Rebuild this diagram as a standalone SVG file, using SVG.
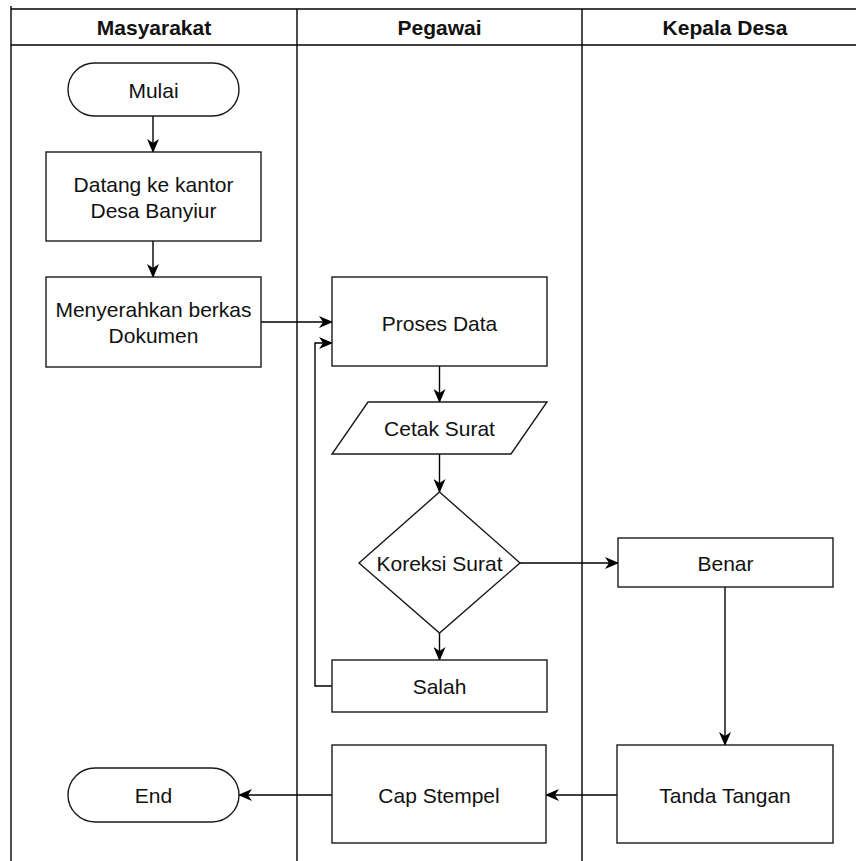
<svg xmlns="http://www.w3.org/2000/svg" width="856" height="861" viewBox="0 0 856 861">
<style>
.lane{fill:none;stroke:#000;stroke-width:1.4}
.shape{fill:#fff;stroke:#1a1a1a;stroke-width:1.4}
.t{font-family:"Liberation Sans",Arial,sans-serif;font-size:21px;fill:#111;text-anchor:middle}
.h{font-family:"Liberation Sans",Arial,sans-serif;font-size:21px;font-weight:bold;fill:#111;text-anchor:middle}
.c{fill:none;stroke:#000;stroke-width:1.4}
</style>
<defs>
<marker id="arr" markerUnits="userSpaceOnUse" markerWidth="14" markerHeight="12" refX="13" refY="6" orient="auto" viewBox="0 0 14 12">
<path d="M0,0 L14,6 L0,12 L4,6 Z" fill="#000"/>
</marker>
</defs>
<rect width="856" height="861" fill="#fff"/>
<g id="pool">
<line class="lane" x1="11" y1="6" x2="11" y2="861"/>
<line class="lane" x1="11" y1="9" x2="856" y2="9"/>
<line class="lane" x1="11" y1="45" x2="856" y2="45"/>
<line class="lane" x1="297" y1="9" x2="297" y2="861"/>
<line class="lane" x1="582" y1="9" x2="582" y2="861"/>
<text class="h" x="154" y="35">Masyarakat</text>
<text class="h" x="439.5" y="35">Pegawai</text>
<text class="h" x="725" y="35">Kepala Desa</text>
</g>
<g id="connectors">
<line class="c" x1="153" y1="116" x2="153" y2="152" marker-end="url(#arr)"/>
<line class="c" x1="153" y1="241" x2="153" y2="277" marker-end="url(#arr)"/>
<line class="c" x1="261" y1="322" x2="332" y2="322" marker-end="url(#arr)"/>
<polyline class="c" points="332,686 315,686 315,343 332,343" marker-end="url(#arr)"/>
<line class="c" x1="439.5" y1="366" x2="439.5" y2="402" marker-end="url(#arr)"/>
<line class="c" x1="439.5" y1="454" x2="439.5" y2="492" marker-end="url(#arr)"/>
<line class="c" x1="439.5" y1="633" x2="439.5" y2="660" marker-end="url(#arr)"/>
<line class="c" x1="520" y1="563" x2="618" y2="563" marker-end="url(#arr)"/>
<line class="c" x1="725" y1="587" x2="725" y2="745" marker-end="url(#arr)"/>
<line class="c" x1="617" y1="795" x2="546" y2="795" marker-end="url(#arr)"/>
<line class="c" x1="332" y1="795" x2="239" y2="795" marker-end="url(#arr)"/>
</g>
<g id="mulai">
<rect class="shape" x="68" y="63" width="171" height="53" rx="26.5" ry="26.5"/>
<text class="t" x="153.5" y="98">Mulai</text>
</g>
<g id="datang">
<rect class="shape" x="46" y="152" width="215" height="89"/>
<text class="t" x="153.5" y="192">Datang ke kantor</text>
<text class="t" x="153.5" y="218">Desa Banyiur</text>
</g>
<g id="menyerahkan">
<rect class="shape" x="46" y="277" width="215" height="90"/>
<text class="t" x="153.5" y="317">Menyerahkan berkas</text>
<text class="t" x="153.5" y="343">Dokumen</text>
</g>
<g id="proses">
<rect class="shape" x="332" y="277" width="215" height="89"/>
<text class="t" x="439.5" y="331">Proses Data</text>
</g>
<g id="cetak">
<polygon class="shape" points="368,402 547,402 511,454 332,454"/>
<text class="t" x="439.5" y="436">Cetak Surat</text>
</g>
<g id="koreksi">
<polygon class="shape" points="439.5,492 520,563 439.5,633 359,563"/>
<text class="t" x="439.5" y="571">Koreksi Surat</text>
</g>
<g id="salah">
<rect class="shape" x="332" y="660" width="215" height="52"/>
<text class="t" x="439.5" y="694">Salah</text>
</g>
<g id="benar">
<rect class="shape" x="618" y="538" width="215" height="49"/>
<text class="t" x="725.5" y="571">Benar</text>
</g>
<g id="tanda">
<rect class="shape" x="617" y="745" width="216" height="98"/>
<text class="t" x="725" y="803">Tanda Tangan</text>
</g>
<g id="cap">
<rect class="shape" x="332" y="745" width="214" height="98"/>
<text class="t" x="439" y="803">Cap Stempel</text>
</g>
<g id="end">
<rect class="shape" x="68" y="768" width="171" height="54" rx="27" ry="27"/>
<text class="t" x="153.5" y="803">End</text>
</g>
</svg>
